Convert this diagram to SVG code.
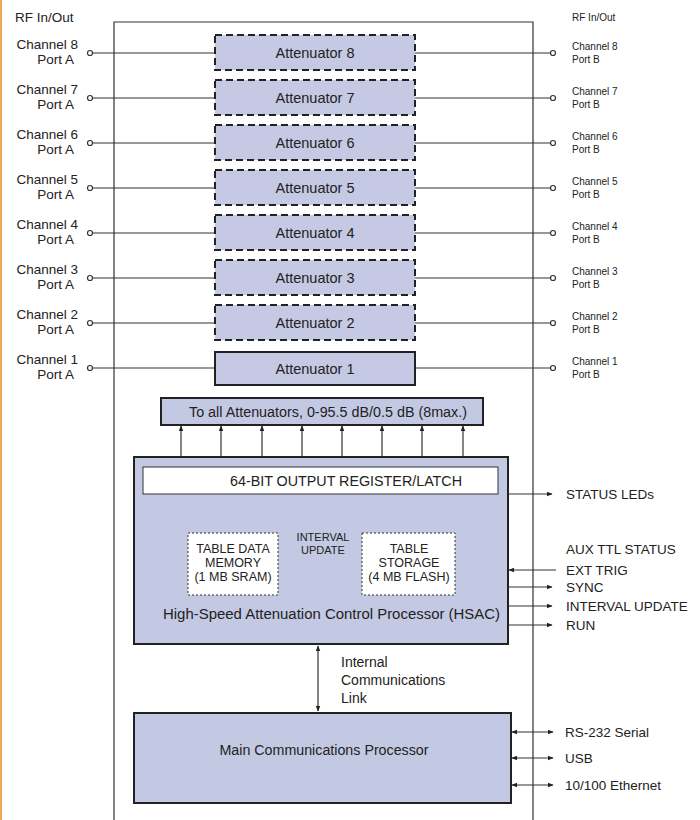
<svg xmlns="http://www.w3.org/2000/svg" width="700" height="820" viewBox="0 0 700 820">
<style>
.t{font-family:"Liberation Sans",Arial,sans-serif;fill:#222}
.lab{font-size:13.5px}
.rl{font-size:10px}
.att{fill:#c5c9e4;stroke:#222;stroke-width:2}
.an{font-size:14.5px}
.dash{stroke-dasharray:7 4}
.ln{stroke:#333;stroke-width:1.2;fill:none}
.pin{fill:#fff;stroke:#333;stroke-width:1.2}
.blk{fill:#c4c9e3;stroke:#222;stroke-width:2}
.mem{fill:#fff;stroke:#333;stroke-width:1;stroke-dasharray:2 2}
.sig{font-size:13.5px}
</style>
<defs>
<marker id="ah" viewBox="0 0 10 10" refX="9" refY="5" markerWidth="5" markerHeight="5" orient="auto-start-reverse">
<path d="M0,1 L10,5 L0,9 z" fill="#222"/>
</marker>
</defs>
<rect width="700" height="820" fill="#fff"/>
<rect x="0" y="0" width="2" height="820" fill="#f2a65a"/>

<g id="enclosure">
<path d="M114,820 L114,22 L533,22 L533,820" class="ln" stroke-width="1.5"/>
</g>

<g id="rf-labels">
<text x="15" y="22" class="t lab">RF In/Out</text>
<text x="572" y="21" class="t rl">RF In/Out</text>
</g>

<g id="connectors">
<g class="ln">
<line x1="92.5" y1="53" x2="215" y2="53"/><line x1="415" y1="53" x2="550.5" y2="53"/>
<line x1="92.5" y1="98" x2="215" y2="98"/><line x1="415" y1="98" x2="550.5" y2="98"/>
<line x1="92.5" y1="143" x2="215" y2="143"/><line x1="415" y1="143" x2="550.5" y2="143"/>
<line x1="92.5" y1="188" x2="215" y2="188"/><line x1="415" y1="188" x2="550.5" y2="188"/>
<line x1="92.5" y1="233" x2="215" y2="233"/><line x1="415" y1="233" x2="550.5" y2="233"/>
<line x1="92.5" y1="278" x2="215" y2="278"/><line x1="415" y1="278" x2="550.5" y2="278"/>
<line x1="92.5" y1="323" x2="215" y2="323"/><line x1="415" y1="323" x2="550.5" y2="323"/>
<line x1="92.5" y1="368" x2="215" y2="368"/><line x1="415" y1="368" x2="550.5" y2="368"/>
</g>
<g>
<circle cx="90" cy="53" r="2.5" class="pin"/><circle cx="553" cy="53" r="2.5" class="pin"/>
<circle cx="90" cy="98" r="2.5" class="pin"/><circle cx="553" cy="98" r="2.5" class="pin"/>
<circle cx="90" cy="143" r="2.5" class="pin"/><circle cx="553" cy="143" r="2.5" class="pin"/>
<circle cx="90" cy="188" r="2.5" class="pin"/><circle cx="553" cy="188" r="2.5" class="pin"/>
<circle cx="90" cy="233" r="2.5" class="pin"/><circle cx="553" cy="233" r="2.5" class="pin"/>
<circle cx="90" cy="278" r="2.5" class="pin"/><circle cx="553" cy="278" r="2.5" class="pin"/>
<circle cx="90" cy="323" r="2.5" class="pin"/><circle cx="553" cy="323" r="2.5" class="pin"/>
<circle cx="90" cy="368" r="2.5" class="pin"/><circle cx="553" cy="368" r="2.5" class="pin"/>
</g>
<g class="ln" marker-end="url(#ah)">
<line x1="181" y1="457" x2="181" y2="426"/>
<line x1="221" y1="457" x2="221" y2="426"/>
<line x1="262" y1="457" x2="262" y2="426"/>
<line x1="302" y1="457" x2="302" y2="426"/>
<line x1="342" y1="457" x2="342" y2="426"/>
<line x1="382" y1="457" x2="382" y2="426"/>
<line x1="422" y1="457" x2="422" y2="426"/>
<line x1="463" y1="457" x2="463" y2="426"/>
</g>
<g class="ln" marker-end="url(#ah)">
<line x1="231" y1="533" x2="231" y2="495"/>
<line x1="408" y1="533" x2="408" y2="495"/>
</g>
<line x1="279" y1="566" x2="361" y2="566" class="ln" marker-start="url(#ah)" marker-end="url(#ah)"/>
<g class="ln">
<line x1="508" y1="494" x2="552" y2="494" marker-end="url(#ah)"/>
<line x1="556" y1="570" x2="509" y2="570" marker-end="url(#ah)"/>
<line x1="508" y1="587" x2="552" y2="587" marker-end="url(#ah)"/>
<line x1="508" y1="606" x2="552" y2="606" marker-end="url(#ah)"/>
<line x1="508" y1="625" x2="552" y2="625" marker-end="url(#ah)"/>
</g>
<line x1="318" y1="646" x2="318" y2="711" class="ln" marker-start="url(#ah)" marker-end="url(#ah)"/>
<g class="ln" marker-start="url(#ah)" marker-end="url(#ah)">
<line x1="512" y1="732" x2="553" y2="732"/>
<line x1="512" y1="758" x2="553" y2="758"/>
<line x1="512" y1="785" x2="553" y2="785"/>
</g>
</g>

<g id="port-labels" class="t">
<g class="lab" text-anchor="end">
<text x="78" y="49">Channel 8</text><text x="74" y="64">Port A</text>
<text x="78" y="94">Channel 7</text><text x="74" y="109">Port A</text>
<text x="78" y="139">Channel 6</text><text x="74" y="154">Port A</text>
<text x="78" y="184">Channel 5</text><text x="74" y="199">Port A</text>
<text x="78" y="229">Channel 4</text><text x="74" y="244">Port A</text>
<text x="78" y="274">Channel 3</text><text x="74" y="289">Port A</text>
<text x="78" y="319">Channel 2</text><text x="74" y="334">Port A</text>
<text x="78" y="364">Channel 1</text><text x="74" y="379">Port A</text>
</g>
<g class="rl">
<text x="572" y="50">Channel 8</text><text x="572" y="63">Port B</text>
<text x="572" y="95">Channel 7</text><text x="572" y="108">Port B</text>
<text x="572" y="140">Channel 6</text><text x="572" y="153">Port B</text>
<text x="572" y="185">Channel 5</text><text x="572" y="198">Port B</text>
<text x="572" y="230">Channel 4</text><text x="572" y="243">Port B</text>
<text x="572" y="275">Channel 3</text><text x="572" y="288">Port B</text>
<text x="572" y="320">Channel 2</text><text x="572" y="333">Port B</text>
<text x="572" y="365">Channel 1</text><text x="572" y="378">Port B</text>
</g>
</g>

<g id="att8"><rect x="215" y="35" width="200" height="35" class="att dash"/><text x="315" y="58" class="t an" text-anchor="middle">Attenuator 8</text></g>
<g id="att7"><rect x="215" y="80" width="200" height="35" class="att dash"/><text x="315" y="103" class="t an" text-anchor="middle">Attenuator 7</text></g>
<g id="att6"><rect x="215" y="125" width="200" height="35" class="att dash"/><text x="315" y="148" class="t an" text-anchor="middle">Attenuator 6</text></g>
<g id="att5"><rect x="215" y="170" width="200" height="35" class="att dash"/><text x="315" y="193" class="t an" text-anchor="middle">Attenuator 5</text></g>
<g id="att4"><rect x="215" y="215" width="200" height="35" class="att dash"/><text x="315" y="238" class="t an" text-anchor="middle">Attenuator 4</text></g>
<g id="att3"><rect x="215" y="260" width="200" height="35" class="att dash"/><text x="315" y="283" class="t an" text-anchor="middle">Attenuator 3</text></g>
<g id="att2"><rect x="215" y="305" width="200" height="35" class="att dash"/><text x="315" y="328" class="t an" text-anchor="middle">Attenuator 2</text></g>
<g id="att1"><rect x="215" y="352" width="200" height="33" class="att" stroke-width="1.5"/><text x="315" y="374" class="t an" text-anchor="middle">Attenuator 1</text></g>

<g id="bus">
<rect x="161" y="398" width="322" height="27" class="blk" stroke-width="1.5"/>
<text x="328" y="417" class="t" font-size="14" text-anchor="middle" textLength="278" lengthAdjust="spacingAndGlyphs">To all Attenuators, 0-95.5 dB/0.5 dB (8max.)</text>
</g>

<g id="hsac">
<rect x="134" y="457" width="374" height="187" class="blk"/>
<text x="163" y="619" class="t" font-size="14" textLength="337" lengthAdjust="spacingAndGlyphs">High-Speed Attenuation Control Processor   (HSAC)</text>
</g>
<g id="register">
<rect x="143" y="467" width="355" height="27" fill="#fff" stroke="#333" stroke-width="1"/>
<text x="346" y="486" class="t" font-size="14" text-anchor="middle" textLength="232" lengthAdjust="spacingAndGlyphs">64-BIT OUTPUT REGISTER/LATCH</text>
</g>
<g id="sram">
<rect x="188" y="533" width="90" height="62" class="mem"/>
<text class="t" font-size="12.5" text-anchor="middle"><tspan x="233" y="553">TABLE DATA</tspan><tspan x="233" y="567">MEMORY</tspan><tspan x="233" y="581">(1 MB SRAM)</tspan></text>
</g>
<g id="flash">
<rect x="362" y="533" width="93" height="62" class="mem"/>
<text class="t" font-size="12.5" text-anchor="middle"><tspan x="409" y="553">TABLE</tspan><tspan x="409" y="567">STORAGE</tspan><tspan x="409" y="581">(4 MB FLASH)</tspan></text>
</g>
<g id="interval-label">
<text class="t" font-size="11" text-anchor="middle"><tspan x="323" y="541">INTERVAL</tspan><tspan x="323" y="554">UPDATE</tspan></text>
</g>

<g id="signals" class="t sig">
<text x="566" y="499">STATUS LEDs</text>
<text x="566" y="554">AUX TTL STATUS</text>
<text x="566" y="575">EXT TRIG</text>
<text x="566" y="592">SYNC</text>
<text x="566" y="611">INTERVAL UPDATE</text>
<text x="566" y="630">RUN</text>
</g>

<g id="link-label" class="t" font-size="14">
<text x="341" y="667">Internal</text>
<text x="341" y="685">Communications</text>
<text x="341" y="703">Link</text>
</g>

<g id="mcp">
<rect x="134" y="713" width="377" height="90" class="blk"/>
<text x="324" y="755" class="t" font-size="14" text-anchor="middle" textLength="209" lengthAdjust="spacingAndGlyphs">Main Communications Processor</text>
</g>

<g id="comm-labels" class="t sig">
<text x="565" y="737">RS-232 Serial</text>
<text x="565" y="763">USB</text>
<text x="565" y="790">10/100 Ethernet</text>
</g>
</svg>
